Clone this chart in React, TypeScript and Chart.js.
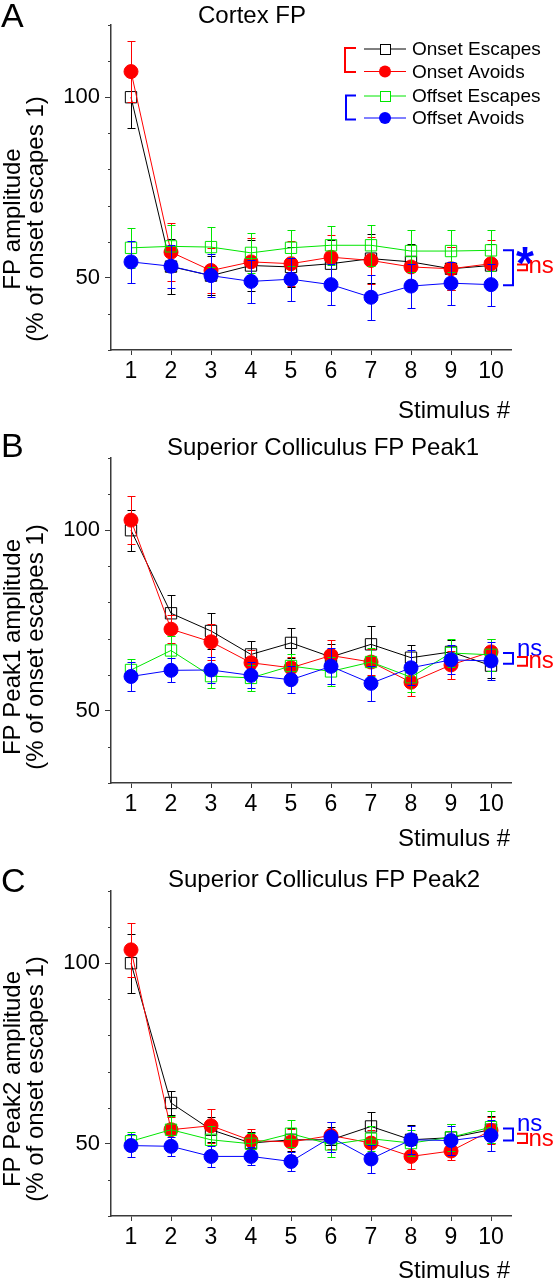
import React, { useEffect, useRef } from 'react';
import { Chart, registerables } from 'chart.js';

Chart.register(...registerables);

// ---------- data ----------
const stimuli = ['1', '2', '3', '4', '5', '6', '7', '8', '9', '10'];
const seriesNames = ['Onset Escapes', 'Onset Avoids', 'Offset Escapes', 'Offset Avoids'];
const yTickLabels = [50, 100];

// Panel A: Cortex FP
const cortexOnsetEscapes = [100, 53.1, 50.6, 53.4, 53.0, 53.9, 55.3, 54.4, 52.5, 53.4];
const cortexOnsetEscapesErr = [8.4, 7.7, 5.5, 7.0, 5.5, 6.5, 6.8, 5.0, 6.0, 6.0];
const cortexOnsetAvoids = [107.1, 57.1, 52.0, 54.4, 53.9, 55.7, 54.8, 53.0, 52.5, 53.9];
const cortexOnsetAvoidsErr = [8.5, 8.0, 6.2, 6.5, 6.3, 6.2, 6.5, 6.0, 6.0, 6.5];
const cortexOffsetEscapes = [58.3, 58.7, 58.5, 56.9, 58.3, 59.0, 59.0, 57.4, 57.4, 57.6];
const cortexOffsetEscapesErr = [5.5, 5.8, 5.6, 5.5, 5.0, 5.4, 5.7, 5.7, 5.7, 5.7];
const cortexOffsetAvoids = [54.4, 53.2, 50.6, 49.0, 49.6, 48.1, 44.6, 47.7, 48.5, 48.1];
const cortexOffsetAvoidsErr = [5.9, 6.0, 6.0, 6.0, 6.0, 5.6, 6.2, 6.0, 6.0, 5.8];
const cortexSigOffset = [57.6, 47.9];
const cortexSigOnset = [53.7, 52.1];

// Panel B: Superior Colliculus FP Peak1
const peak1OnsetEscapes = [100, 77.0, 72.1, 65.6, 68.8, 64.9, 68.4, 64.7, 66.3, 62.5];
const peak1OnsetEscapesErr = [5.7, 5.1, 5.0, 3.8, 4.2, 3.5, 5.2, 3.5, 3.3, 3.5];
const peak1OnsetAvoids = [102.8, 72.6, 69.1, 63.3, 61.9, 65.3, 63.5, 57.9, 62.7, 66.3];
const peak1OnsetAvoidsErr = [6.7, 3.9, 5.0, 3.4, 3.0, 4.4, 3.6, 3.9, 3.9, 3.7];
const peak1OffsetEscapes = [61.3, 66.7, 59.6, 59.1, 62.4, 60.9, 63.5, 59.3, 66.0, 65.5];
const peak1OffsetEscapesErr = [3.1, 4.0, 3.4, 3.5, 3.4, 4.1, 3.8, 4.2, 3.8, 4.4];
const peak1OffsetAvoids = [59.5, 61.2, 61.3, 59.8, 58.6, 62.3, 57.6, 61.9, 64.1, 63.8];
const peak1OffsetAvoidsErr = [3.9, 3.3, 3.6, 3.6, 3.7, 5.0, 4.8, 4.8, 4.0, 5.2];
const peak1SigOffset = [66.0, 63.0];
const peak1SigOnset = [64.9, 62.5];

// Panel C: Superior Colliculus FP Peak2
const peak2OnsetEscapes = [100, 61.3, 53.9, 50.2, 51.1, 51.1, 54.8, 51.1, 51.7, 53.9];
const peak2OnsetEscapesErr = [8.2, 3.3, 3.5, 3.0, 3.2, 3.5, 4.0, 4.0, 3.7, 3.8];
const peak2OnsetAvoids = [103.7, 53.9, 55.0, 50.9, 50.5, 52.3, 50.2, 46.5, 48.0, 53.7];
const peak2OnsetAvoidsErr = [7.4, 3.5, 4.7, 3.3, 3.7, 3.7, 3.5, 3.6, 2.6, 3.7];
const peak2OffsetEscapes = [50.7, 53.9, 51.1, 50.0, 52.8, 49.8, 51.4, 50.2, 51.8, 54.6];
const peak2OffsetEscapesErr = [2.7, 3.8, 3.7, 3.0, 3.8, 3.5, 3.5, 3.5, 3.7, 4.4];
const peak2OffsetAvoids = [49.5, 49.3, 46.5, 46.5, 45.1, 51.8, 45.8, 51.1, 50.9, 52.3];
const peak2OffsetAvoidsErr = [3.1, 2.6, 3.0, 2.5, 2.7, 4.2, 3.9, 3.9, 3.9, 4.2];
const peak2SigOffset = [54.2, 50.9];
const peak2SigOnset = [52.8, 50.2];

// ---------- styles ----------
const FONT = "'Liberation Sans', Arial, Helvetica, sans-serif";
const AXIS = '#3a3a3a';
const COLORS = ['#000000', '#ff0000', '#00e600', '#0000ff'];
const STYLES = [
  { pointStyle: 'rect', radius: 8, filled: false, order: 4 },
  { pointStyle: 'circle', radius: 7, filled: true, order: 3 },
  { pointStyle: 'rect', radius: 8, filled: false, order: 2 },
  { pointStyle: 'circle', radius: 7, filled: true, order: 1 },
];

type PanelCfg = {
  letter: string;
  title: string;
  yLabel: string[];
  height: number;
  top: number;
  bottom: number;
  titleX: number;
  titleBase: number;
  letterBase: number;
  yLabelCenter: number;
  xTitleBase: number;
  series: number[][];
  errors: number[][];
  legend: boolean;
  sigOffset: number[];
  sigOnset: number[];
  offsetMark: string;
};

const PANELS: PanelCfg[] = [
  {
    letter: 'A',
    title: 'Cortex FP',
    yLabel: ['FP amplitude', '(% of onset escapes 1)'],
    height: 420,
    top: 25,
    bottom: 350,
    titleX: 252,
    titleBase: 23,
    letterBase: 27,
    yLabelCenter: 219,
    xTitleBase: 418,
    series: [cortexOnsetEscapes, cortexOnsetAvoids, cortexOffsetEscapes, cortexOffsetAvoids],
    errors: [cortexOnsetEscapesErr, cortexOnsetAvoidsErr, cortexOffsetEscapesErr, cortexOffsetAvoidsErr],
    legend: true,
    sigOffset: cortexSigOffset,
    sigOnset: cortexSigOnset,
    offsetMark: '*',
  },
  {
    letter: 'B',
    title: 'Superior Colliculus FP Peak1',
    yLabel: ['FP Peak1 amplitude', '(% of onset escapes 1)'],
    height: 430,
    top: 38,
    bottom: 363,
    titleX: 323,
    titleBase: 35,
    letterBase: 37,
    yLabelCenter: 227,
    xTitleBase: 426,
    series: [peak1OnsetEscapes, peak1OnsetAvoids, peak1OffsetEscapes, peak1OffsetAvoids],
    errors: [peak1OnsetEscapesErr, peak1OnsetAvoidsErr, peak1OffsetEscapesErr, peak1OffsetAvoidsErr],
    legend: false,
    sigOffset: peak1SigOffset,
    sigOnset: peak1SigOnset,
    offsetMark: 'ns',
  },
  {
    letter: 'C',
    title: 'Superior Colliculus FP Peak2',
    yLabel: ['FP Peak2 amplitude', '(% of onset escapes 1)'],
    height: 430,
    top: 41,
    bottom: 366,
    titleX: 324,
    titleBase: 37,
    letterBase: 42,
    yLabelCenter: 229,
    xTitleBase: 428,
    series: [peak2OnsetEscapes, peak2OnsetAvoids, peak2OffsetEscapes, peak2OffsetAvoids],
    errors: [peak2OnsetEscapesErr, peak2OnsetAvoidsErr, peak2OffsetEscapesErr, peak2OffsetAvoidsErr],
    legend: false,
    sigOffset: peak2SigOffset,
    sigOnset: peak2SigOnset,
    offsetMark: 'ns',
  },
];

const WIDTH = 556;
const PLOT_LEFT = 111;
const PLOT_RIGHT = 511;

function drawBracket(ctx: CanvasRenderingContext2D, x0: number, x1: number, yA: number, yB: number, color: string) {
  ctx.strokeStyle = color;
  ctx.lineWidth = 2;
  ctx.beginPath();
  ctx.moveTo(x0, yA);
  ctx.lineTo(x1, yA);
  ctx.lineTo(x1, yB);
  ctx.lineTo(x0, yB);
  ctx.stroke();
}

function makePlugin(cfg: PanelCfg) {
  return {
    id: 'panelDeco',
    beforeDatasetDraw(chart: any, args: any) {
      const ds = chart.data.datasets[args.index];
      const errs: number[] = ds.errors;
      const ys = chart.scales.y;
      const ctx: CanvasRenderingContext2D = chart.ctx;
      ctx.save();
      ctx.strokeStyle = ds.borderColor;
      ctx.lineWidth = 1;
      args.meta.data.forEach((pt: any, i: number) => {
        const v = ds.data[i];
        const e = errs[i];
        const x = Math.round(pt.x) + 0.5;
        const yt = Math.round(ys.getPixelForValue(v + e)) + 0.5;
        const yb = Math.round(ys.getPixelForValue(v - e)) + 0.5;
        ctx.beginPath();
        ctx.moveTo(x, yt);
        ctx.lineTo(x, yb);
        ctx.moveTo(x - 4, yt);
        ctx.lineTo(x + 4, yt);
        ctx.moveTo(x - 4, yb);
        ctx.lineTo(x + 4, yb);
        ctx.stroke();
      });
      ctx.restore();
    },
    afterDraw(chart: any) {
      const ctx: CanvasRenderingContext2D = chart.ctx;
      const { left, right } = chart.chartArea;
      const ys = chart.scales.y;
      ctx.save();

      // minor y ticks
      ctx.strokeStyle = AXIS;
      ctx.lineWidth = 1;
      ys.ticks.forEach((t: any) => {
        if (yTickLabels.includes(t.value)) return;
        const py = Math.round(ys.getPixelForValue(t.value)) + 0.5;
        ctx.beginPath();
        ctx.moveTo(left - 3, py);
        ctx.lineTo(left, py);
        ctx.stroke();
      });

      ctx.fillStyle = '#000';
      // panel letter
      ctx.font = `34px ${FONT}`;
      ctx.textAlign = 'left';
      ctx.textBaseline = 'alphabetic';
      ctx.fillText(cfg.letter, 1, cfg.letterBase);

      // title
      ctx.font = `24px ${FONT}`;
      ctx.textAlign = 'center';
      ctx.fillText(cfg.title, cfg.titleX, cfg.titleBase);

      // x axis title
      ctx.textAlign = 'right';
      ctx.fillText('Stimulus #', right - 1, cfg.xTitleBase);

      // y axis title (two lines, rotated)
      ctx.textAlign = 'center';
      const baselines = [20, 43];
      cfg.yLabel.forEach((line, i) => {
        ctx.save();
        ctx.translate(baselines[i], cfg.yLabelCenter);
        ctx.rotate(-Math.PI / 2);
        ctx.fillText(line, 0, 0);
        ctx.restore();
      });

      // legend
      if (cfg.legend) {
        const rows = [49, 71.5, 96, 118];
        chart.data.datasets.forEach((ds: any, i: number) => {
          const y = rows[i];
          ctx.strokeStyle = ds.borderColor;
          ctx.lineWidth = 1;
          ctx.beginPath();
          ctx.moveTo(364, y);
          ctx.lineTo(406, y);
          ctx.stroke();
          const cx = 385;
          if (ds.pointStyle === 'rect') {
            ctx.fillStyle = '#fff';
            ctx.fillRect(cx - 5, y - 5, 10, 10);
            ctx.strokeRect(cx - 5 + 0.5, y - 5 + 0.5, 10, 10);
          } else {
            ctx.fillStyle = ds.borderColor;
            ctx.beginPath();
            ctx.arc(cx, y, 6, 0, Math.PI * 2);
            ctx.fill();
          }
          ctx.fillStyle = '#000';
          ctx.font = `19px ${FONT}`;
          ctx.textAlign = 'left';
          ctx.textBaseline = 'middle';
          ctx.fillText(ds.label, 412, y + 1);
        });
        ctx.textBaseline = 'alphabetic';
        drawBracket(ctx, 356, 345, rows[0] - 1, rows[1] + 0.5, COLORS[1]);
        drawBracket(ctx, 356, 346, rows[2] - 0.5, rows[3] + 1.5, COLORS[3]);
      }

      // significance brackets
      const oTop = ys.getPixelForValue(cfg.sigOffset[0]);
      const oBot = ys.getPixelForValue(cfg.sigOffset[1]);
      drawBracket(ctx, 503, 513, oTop, oBot, COLORS[3]);
      const nTop = ys.getPixelForValue(cfg.sigOnset[0]);
      const nBot = ys.getPixelForValue(cfg.sigOnset[1]);
      drawBracket(ctx, 517, 527, nTop, nBot, COLORS[1]);

      ctx.textAlign = 'left';
      ctx.textBaseline = 'alphabetic';
      if (cfg.offsetMark === '*') {
        ctx.fillStyle = COLORS[3];
        ctx.font = `bold 46px ${FONT}`;
        ctx.fillText('*', 516, oTop + 29);
      } else {
        ctx.fillStyle = COLORS[3];
        ctx.font = `24px ${FONT}`;
        ctx.fillText('ns', 517, oTop + 2.5);
      }
      ctx.fillStyle = COLORS[1];
      ctx.font = `24px ${FONT}`;
      ctx.fillText('ns', 528.5, nBot + 2.5);

      ctx.restore();
    },
  };
}

function Panel({ cfg }: { cfg: PanelCfg }) {
  const ref = useRef<HTMLCanvasElement | null>(null);
  useEffect(() => {
    if (!ref.current) return;
    const datasets = cfg.series.map((data, i) => {
      const st = STYLES[i];
      return {
        label: seriesNames[i],
        data,
        errors: cfg.errors[i],
        borderColor: COLORS[i],
        backgroundColor: COLORS[i],
        borderWidth: 1,
        tension: 0,
        fill: false,
        pointStyle: st.pointStyle,
        pointRadius: st.radius,
        pointBorderWidth: 1,
        pointBorderColor: COLORS[i],
        pointBackgroundColor: st.filled ? COLORS[i] : 'rgba(0,0,0,0)',
        order: st.order,
        clip: false,
      };
    });
    const chart = new Chart(ref.current, {
      type: 'line',
      data: { labels: stimuli, datasets: datasets as any },
      options: {
        responsive: false,
        animation: false,
        devicePixelRatio: 1,
        events: [],
        layout: { padding: { left: 0, right: WIDTH - PLOT_RIGHT, top: cfg.top, bottom: 0 } },
        plugins: {
          legend: { display: false },
          title: { display: false },
          tooltip: { enabled: false },
        },
        scales: {
          x: {
            type: 'category',
            offset: true,
            grid: {
              drawOnChartArea: false,
              drawTicks: true,
              tickLength: 5,
              color: AXIS,
              offset: false,
              lineWidth: 1,
            },
            border: { display: true, color: AXIS, width: 1.5 },
            ticks: {
              color: '#000',
              font: { family: FONT, size: 23 },
              padding: 3,
              maxRotation: 0,
              autoSkip: false,
            },
            afterFit: (s: any) => {
              s.height = cfg.height - cfg.bottom;
            },
          },
          y: {
            type: 'linear',
            min: 30,
            max: 120,
            grid: {
              drawOnChartArea: false,
              drawTicks: true,
              tickLength: 6,
              lineWidth: 1,
              color: (c: any) => (c.tick && yTickLabels.includes(c.tick.value) ? AXIS : 'rgba(0,0,0,0)'),
            },
            border: { display: true, color: AXIS, width: 1.5 },
            ticks: {
              stepSize: 10,
              color: '#000',
              font: { family: FONT, size: 22 },
              padding: 5,
              callback: (v: any) => (yTickLabels.includes(Number(v)) ? String(v) : ''),
            },
            afterFit: (s: any) => {
              s.width = PLOT_LEFT;
            },
          },
        },
      },
      plugins: [makePlugin(cfg)],
    });
    return () => chart.destroy();
  }, [cfg]);
  return <canvas ref={ref} width={WIDTH} height={cfg.height} style={{ display: 'block', width: WIDTH, height: cfg.height }} />;
}

export default function App() {
  return (
    <div style={{ position: 'absolute', left: 0, top: 0, width: WIDTH, background: '#fff' }}>
      {PANELS.map((p) => (
        <Panel key={p.letter} cfg={p} />
      ))}
    </div>
  );
}
